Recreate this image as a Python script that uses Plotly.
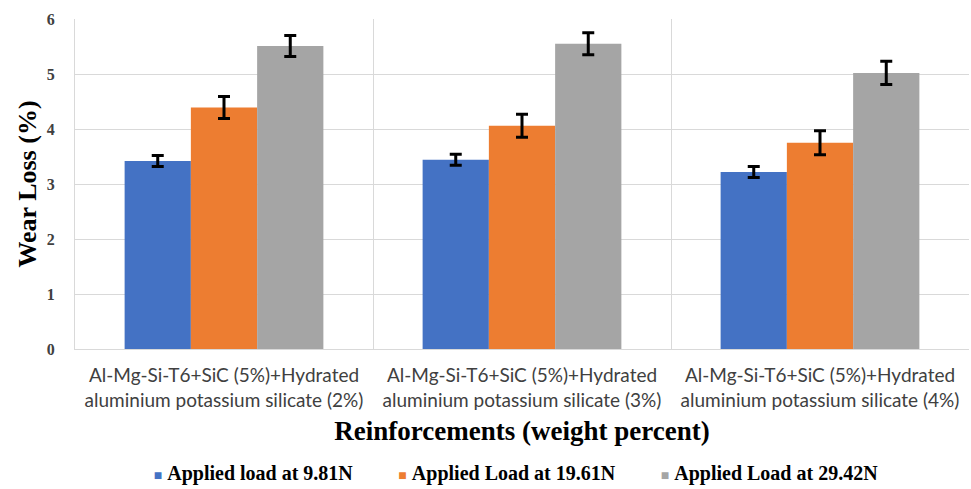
import plotly.graph_objects as go

categories = [
    "Al-Mg-Si-T6+SiC (5%)+Hydrated<br>aluminium potassium silicate (2%)",
    "Al-Mg-Si-T6+SiC (5%)+Hydrated<br>aluminium potassium silicate (3%)",
    "Al-Mg-Si-T6+SiC (5%)+Hydrated<br>aluminium potassium silicate (4%)",
]
series_names = ["Applied load at 9.81N", "Applied Load at 19.61N", "Applied Load at 29.42N"]
load_981 = [3.42, 3.44, 3.22]
load_1961 = [4.39, 4.06, 3.75]
load_2942 = [5.51, 5.55, 5.02]
err_981 = [0.10, 0.10, 0.10]
err_1961 = [0.20, 0.21, 0.22]
err_2942 = [0.19, 0.20, 0.21]
colors = ["#4472C4", "#ED7D31", "#A5A5A5"]

fig = go.Figure()
for name, vals, errs, c in zip(series_names, [load_981, load_1961, load_2942],
                               [err_981, err_1961, err_2942], colors):
    fig.add_trace(go.Bar(
        x=categories, y=vals, name=name, showlegend=False,
        marker=dict(color=c, line=dict(width=0)),
        error_y=dict(type="data", array=errs, visible=True, color="black",
                     thickness=3, width=6),
    ))
# legend entries: coloured square glyph + bold label
for name, c in zip(series_names, colors):
    fig.add_trace(go.Scatter(
        x=[None], y=[None], mode="lines", line=dict(width=0, color=c),
        name=f"<span style='color:{c};font-size:14px'>■</span> <b>{name}</b>",
        showlegend=True, hoverinfo="skip",
    ))

serif = "Liberation Serif"
fig.update_layout(
    width=971, height=489,
    margin=dict(l=75, r=2, t=19, b=140, autoexpand=False),
    plot_bgcolor="white", paper_bgcolor="white",
    barmode="group", bargap=0.333, bargroupgap=0,
    showlegend=True,
    legend=dict(orientation="h", x=0.474, xanchor="center", y=-0.372, yanchor="middle",
                font=dict(family=serif, size=20, color="black"),
                itemwidth=30, tracegroupgap=0),
    yaxis=dict(range=[0, 6], dtick=1, showgrid=True, gridcolor="#D9D9D9", gridwidth=1,
               zeroline=False, showline=True, linecolor="#D9D9D9", linewidth=1,
               automargin=False,
               tickfont=dict(family=serif, size=16, color="#404040"),
               ticks="", ticklabelstandoff=16,
               tickprefix="<b>", ticksuffix="</b>",
               title=dict(text="<b>Wear Loss (%)</b>", font=dict(family=serif, size=26, color="black"),
                          standoff=2)),
    xaxis=dict(showgrid=True, gridcolor="#D9D9D9", tickson="boundaries",
               showline=True, linecolor="#D9D9D9", linewidth=1, ticks="",
               automargin=False,
               ticklabelstandoff=9,
               tickfont=dict(family="Lato", size=19, color="#404040"),
               title=dict(text="<b>Reinforcements (weight percent)</b>",
                          font=dict(family=serif, size=27, color="black"), standoff=11)),
)
fig.write_html("out.html")
